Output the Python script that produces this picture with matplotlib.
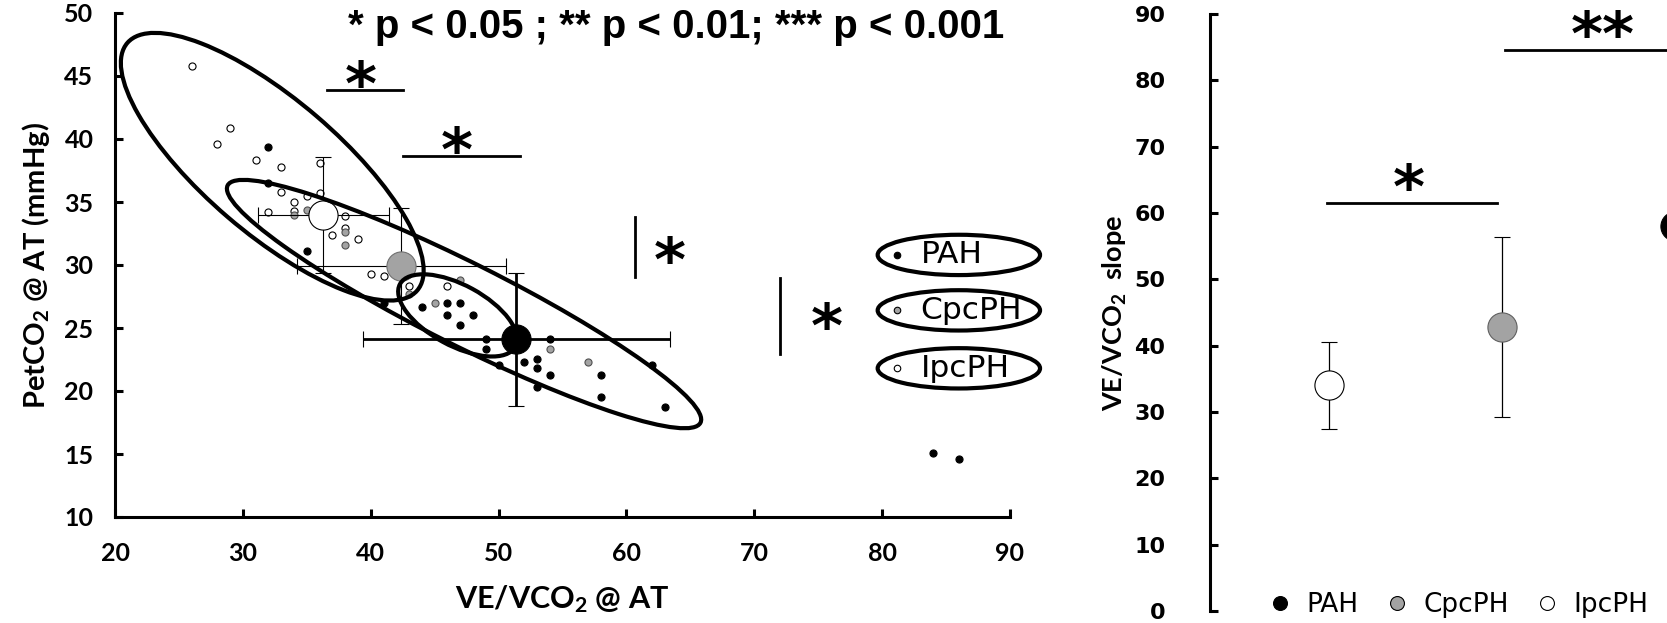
import matplotlib.pyplot as plt
from matplotlib.patches import Ellipse
from matplotlib.lines import Line2D

plt.rcParams['mathtext.default'] = 'regular'

# PetCO2 @ AT against VE/VCO2 @ AT, one point per patient
pah_x = [32, 32, 35, 41, 44, 46, 47, 46, 48, 47, 49, 49, 54, 50, 52, 53, 53, 54, 53, 58, 58, 62, 63, 84, 86]
pah_y = [39.4, 36.5, 31.1, 27.0, 26.7, 27.0, 27.0, 26.0, 26.0, 25.2, 24.1, 23.3, 24.1, 22.1,
         22.3, 22.5, 21.8, 21.3, 20.3, 21.3, 19.5, 22.1, 18.7, 15.1, 14.6]
cpc_x = [34, 35, 37, 38, 38, 43, 45, 47, 54, 57]
cpc_y = [34.0, 34.4, 34.0, 32.6, 31.6, 27.7, 27.0, 28.8, 23.3, 22.3]
ipc_x = [26, 29, 28, 31, 33, 36, 33, 35, 36, 34, 32, 38, 37, 39, 38, 37, 40, 41, 43, 46, 34]
ipc_y = [45.8, 40.9, 39.6, 38.3, 37.8, 38.1, 35.8, 35.5, 35.7, 35.0, 34.2, 33.9, 32.4, 32.1,
         32.9, 34.3, 29.3, 29.1, 28.3, 28.3, 34.3]

groups = ['PAH', 'CpcPH', 'IpcPH']
colors = ['black', '#a3a3a3', 'white']

# group mean +/- SD
mean_x = [51.4, 42.4, 36.3]
mean_y = [24.1, 29.9, 34.0]
sd_x = [12.0, 8.2, 5.1]
sd_y = [5.3, 4.6, 4.6]

# confidence ellipses (centre, axes, angle)
ell_cx = [32.3, 47.3, 46.8]
ell_cy = [37.8, 26.9, 26.0]
ell_w = [30.0, 41.5, 10.3]
ell_h = [10.6, 6.5, 4.8]
ell_ang = [-41, -27, -29]

# VE/VCO2 slope by group
slope_groups = ['IpcPH', 'CpcPH', 'PAH']
slope_mean = [34.0, 42.8, 58.0]
slope_sd = [6.5, 13.6, 14.0]

fig = plt.figure(figsize=(16.67, 6.23), dpi=100)
W, H = 1667, 623

# ---- left panel ----
ax = fig.add_axes([115 / W, 1 - 517 / H, 895 / W, 504 / H])
ax.scatter(ipc_x, ipc_y, s=26, c='white', edgecolors='black', linewidths=0.8, zorder=3)
ax.scatter(cpc_x, cpc_y, s=26, c=colors[1], edgecolors='#505050', linewidths=0.8, zorder=3)
ax.scatter(pah_x, pah_y, s=26, c='black', edgecolors='black', linewidths=0.8, zorder=3)

for i in range(3):
    thick = 2.0 if i == 0 else 0.8
    ax.errorbar(mean_x[i], mean_y[i], xerr=sd_x[i], yerr=sd_y[i], fmt='o', ms=21,
                mfc=colors[i], mec='black' if i != 1 else '#707070', mew=0.8,
                ecolor='black', elinewidth=thick, capsize=6, capthick=thick, zorder=4)

for i in range(3):
    ax.add_patch(Ellipse((ell_cx[i], ell_cy[i]), ell_w[i], ell_h[i], angle=ell_ang[i],
                         fill=False, lw=3, ec='black', zorder=5))

# group key inside ellipses
key_y = [30.8, 26.4, 21.8]
for i in range(3):
    ax.add_patch(Ellipse((86.0, key_y[i]), 12.7, 3.2, fill=False, lw=3, ec='black',
                         zorder=5, clip_on=False))
    ax.scatter([81.2], [key_y[i]], s=22, c=colors[i], edgecolors='black', linewidths=0.8,
               zorder=6, clip_on=False)
    ax.text(83.0, key_y[i], groups[i], fontsize=22.5, family='DejaVu Sans', va='center',
            ha='left', clip_on=False)

# significance marks
star_kw = dict(fontsize=44, fontweight='bold', family='DejaVu Sans', ha='center', va='center')
ax.plot([36.6, 42.5], [43.9, 43.9], color='black', lw=2)
ax.text(39.2, 44.0, '*', **star_kw)
ax.plot([42.5, 51.7], [38.65, 38.65], color='black', lw=2)
ax.text(46.7, 38.75, '*', **star_kw)
ax.plot([60.7, 60.7], [29.05, 33.8], color='black', lw=2)
ax.text(63.4, 30.0, '*', **star_kw)
ax.plot([72.0, 72.0], [22.9, 29.0], color='black', lw=2)
ax.text(75.7, 24.8, '*', **star_kw)

ax.text(63.9, 48.9, '* p < 0.05 ; ** p < 0.01; *** p < 0.001', fontsize=29,
        fontweight='bold', family='Liberation Sans', ha='center', va='center')

ax.set_xlim(20, 90)
ax.set_ylim(10, 50)
ax.set_xticks(range(20, 91, 10))
ax.set_yticks(range(10, 51, 5))
for s in ['top', 'right']:
    ax.spines[s].set_visible(False)
for s in ['left', 'bottom']:
    ax.spines[s].set_linewidth(2.2)
ax.tick_params(direction='in', length=6, width=2.2, labelsize=18)
ax.tick_params(axis='x', pad=18)
ax.tick_params(axis='y', pad=15.5)
for lab in ax.get_xticklabels() + ax.get_yticklabels():
    lab.set_family('Lato')
    lab.set_fontweight('bold')
ax.set_xlabel('VE/VCO$_2$ @ AT', fontsize=22, fontweight='bold', family='Lato', labelpad=13)
ax.set_ylabel('PetCO$_2$ @ AT (mmHg)', fontsize=21, fontweight='bold', family='Lato', labelpad=9)

# ---- right panel ----
ax2 = fig.add_axes([1210 / W, 1 - 611 / H, 589 / W, 597 / H])
pos = [1, 2, 3]
face = ['white', '#a3a3a3', 'black']
for i in range(3):
    ax2.errorbar(pos[i], slope_mean[i], yerr=slope_sd[i], fmt='o', ms=21, mfc=face[i],
                 mec='black' if i != 1 else '#606060', mew=0.8, ecolor='black',
                 elinewidth=0.9, capsize=6, capthick=0.9, zorder=3)

ax2.plot([0.99, 1.97], [61.5, 61.5], color='black', lw=2)
ax2.text(1.46, 63.3, '*', **star_kw)
ax2.plot([2.02, 3.7], [84.5, 84.5], color='black', lw=2)
ax2.text(2.58, 86.3, '**', **star_kw)

ax2.set_xlim(0.312, 0.312 + 589 / 173)
ax2.set_ylim(0, 90)
ax2.set_yticks(range(0, 91, 10))
ax2.set_xticks([])
for s in ['top', 'right', 'bottom']:
    ax2.spines[s].set_visible(False)
ax2.spines['left'].set_linewidth(2.2)
ax2.tick_params(axis='y', direction='in', length=6, width=2.2, labelsize=16, pad=32)
for lab in ax2.get_yticklabels():
    lab.set_family('DejaVu Sans')
    lab.set_fontweight('bold')
ax2.set_ylabel('VE/VCO$_2$  slope', fontsize=19.5, fontweight='bold', family='Lato', labelpad=4)

handles = [Line2D([], [], ls='none', marker='o', ms=10, mfc=colors[i], mec='black', mew=0.8)
           for i in range(3)]
fig.legend(handles, groups, loc='center left', bbox_to_anchor=(1272 / W, 1 - 605 / H),
           bbox_transform=fig.transFigure, ncol=3, frameon=False,
           handlelength=0.6, handletextpad=0.7, columnspacing=1.15, borderpad=0,
           borderaxespad=0, prop={'family': 'DejaVu Sans', 'size': 19})

fig.savefig('out.png', dpi=100)
